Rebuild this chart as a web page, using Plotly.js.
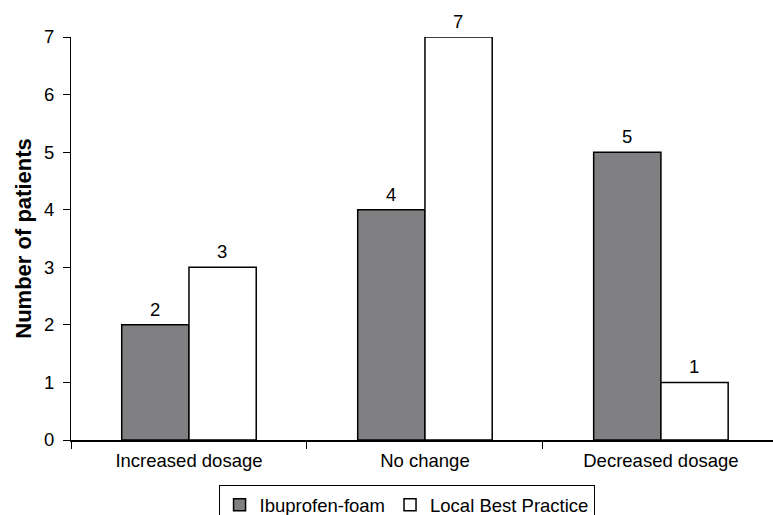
<!DOCTYPE html>
<html>
<head>
<meta charset="utf-8">
<script src="https://cdn.plot.ly/plotly-3.0.1.min.js"></script>
<style>html,body{margin:0;padding:0;background:#fff}#chart{width:773px;height:515px}</style>
</head>
<body>
<div id="chart"></div>
<script>
const categories = ["Increased dosage", "No change", "Decreased dosage"];
const seriesNames = ["Ibuprofen-foam", "Local Best Practice"];
const ibuprofenFoam = [2, 4, 5];
const localBestPractice = [3, 7, 1];
const yTicks = [0, 1, 2, 3, 4, 5, 6, 7];

const FONT = "Liberation Sans, Arial, sans-serif";
const FS = 18.5;
const barLine = {color: "#000", width: 1.5};

const traces = [
  {type: "bar", name: seriesNames[0], x: categories, y: ibuprofenFoam,
   marker: {color: "#808083", line: barLine}},
  {type: "bar", name: seriesNames[1], x: categories, y: localBestPractice,
   marker: {color: "#ffffff", line: barLine}}
];

// value labels, placed through the axes
const annotations = [];
const offs = [-0.142, 0.142];
[ibuprofenFoam, localBestPractice].forEach((vals, si) => {
  vals.forEach((v, i) => {
    annotations.push({x: i + offs[si], y: v, xref: "x", yref: "y", text: String(v),
      showarrow: false, yanchor: "bottom", yshift: 3,
      font: {family: FONT, size: FS, color: "#000"}});
  });
});

const layout = {
  width: 773, height: 515,
  margin: {l: 71, r: 0, t: 37, b: 75, autoexpand: false},
  paper_bgcolor: "#fff", plot_bgcolor: "#fff",
  barmode: "group", bargap: 0.43, bargroupgap: 0,
  font: {family: FONT, size: FS, color: "#000"},
  showlegend: true,
  legend: {orientation: "h", x: 0.478, xanchor: "center", y: -0.112, yanchor: "top",
    bordercolor: "#000", borderwidth: 1, font: {family: FONT, size: FS, color: "#000"},
    traceorder: "normal"},
  xaxis: {type: "category", range: [-0.5, 2.475], showline: true, linecolor: "#000", linewidth: 1.5,
    ticks: "outside", tickson: "boundaries", ticklen: 7, tickcolor: "#000", tickwidth: 1,
    ticklabelstandoff: 3, automargin: false,
    showgrid: false, zeroline: false, tickfont: {family: FONT, size: FS, color: "#000"}},
  yaxis: {range: [0, 7], tickvals: yTicks, showline: true, linecolor: "#000", linewidth: 1,
    ticks: "outside", ticklen: 7, tickcolor: "#000", showgrid: false, zeroline: false,
    ticklabelstandoff: 5, automargin: false,
    tickfont: {family: FONT, size: FS, color: "#000"},
    title: {text: "<b>Number of patients</b>", font: {family: FONT, size: 22, color: "#000"}, standoff: 6}},
  annotations: annotations
};

Plotly.newPlot("chart", traces, layout, {displayModeBar: false, staticPlot: true});
</script>
</body>
</html>
